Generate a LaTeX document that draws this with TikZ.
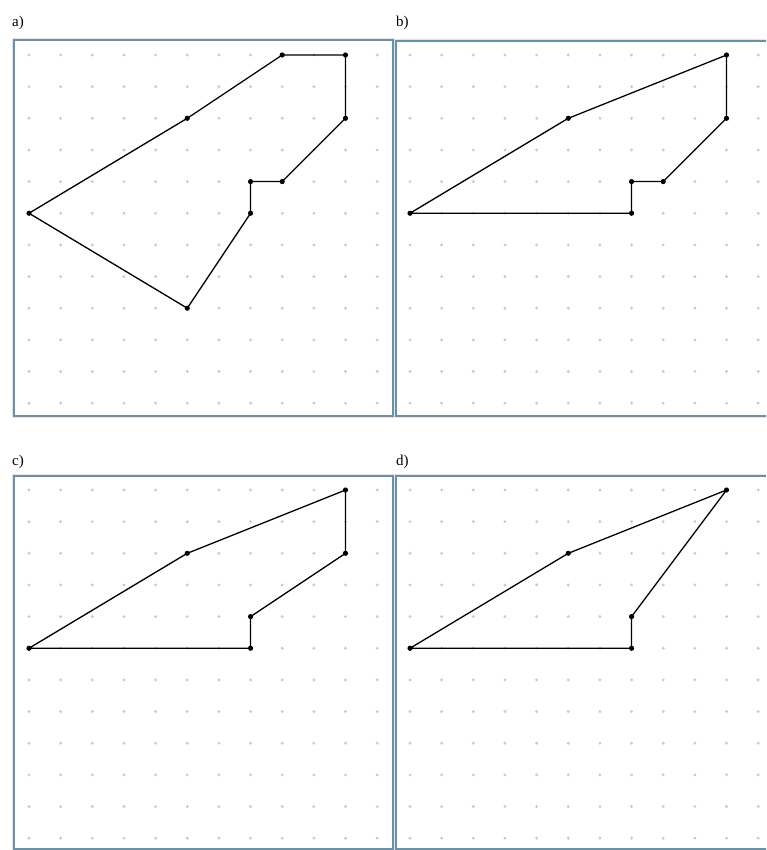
\documentclass[tikz,border=0pt]{standalone}
\usepackage{fontspec}
\setmainfont{Liberation Serif}
\definecolor{framecol}{RGB}{100,148,172}
\definecolor{pinkish}{RGB}{248,222,215}
\definecolor{gridcol}{RGB}{175,212,234}
\tikzset{
  panelframe/.style={draw=framecol, line width=1.6pt},
  panelglow/.style={draw=pinkish, line width=0.8pt},
  gdot/.style={fill=gridcol},
  poly/.style={draw=black, line width=1.3pt, line join=round},
  vtx/.style={fill=black},
  plabel/.style={anchor=west, inner sep=0pt, font=\fontsize{15}{17}\selectfont}
}
\newcommand{\gsp}{31.65}
\begin{document}
\begin{tikzpicture}[x=1pt,y=-1pt]
\useasboundingbox (0,0) rectangle (766,850);
\clip (0,0) rectangle (766,850);
\fill[white] (0,0) rectangle (766,850);
% labels
\node[plabel] (la) at (12,23) {a)};
\node[plabel] (lb) at (396,23) {b)};
\node[plabel] (lc) at (12,462) {c)};
\node[plabel] (ld) at (396,462) {d)};
% frames
\draw[panelglow] (12.5,38.5) rectangle (394.5,417.5);
\draw[panelframe] (14,40) rectangle (393,416);
\draw[panelglow] (394.5,39.5) rectangle (772,417.5);
\draw[panelframe] (396,41) rectangle (772,416);
\draw[panelglow] (12.5,474.5) rectangle (394.5,852);
\draw[panelframe] (14,476) rectangle (393,849);
\draw[panelglow] (394.5,474.5) rectangle (772,852);
\draw[panelframe] (396,476) rectangle (772,849);
% grid dots
\foreach \ox/\oy in {29/55, 410/55, 29/490, 410/490}{
  \foreach \i in {0,...,11}{
    \foreach \j in {0,...,11}{
      \fill[gdot] (\ox+\i*\gsp,\oy+\j*\gsp) circle (1.6);
    }
  }
}
% panel a
\begin{scope}[shift={(29,55)}]
\foreach \n/\c/\r in {a1/0/5, a2/5/2, a3/8/0, a4/10/0, a5/10/2, a6/8/4, a7/7/4, a8/7/5, a9/5/8}{
  \coordinate (\n) at (\c*\gsp,\r*\gsp);
}
\draw[poly] (a1) -- (a2) -- (a3) -- (a4) -- (a5) -- (a6) -- (a7) -- (a8) -- (a9) -- cycle;
\foreach \n in {a1,a2,a3,a4,a5,a6,a7,a8,a9}{\fill[vtx] (\n) circle (2.6);}
\end{scope}
% panel b
\begin{scope}[shift={(410,55)}]
\foreach \n/\c/\r in {b1/0/5, b2/5/2, b3/10/0, b4/10/2, b5/8/4, b6/7/4, b7/7/5}{
  \coordinate (\n) at (\c*\gsp,\r*\gsp);
}
\draw[poly] (b1) -- (b2) -- (b3) -- (b4) -- (b5) -- (b6) -- (b7) -- cycle;
\foreach \n in {b1,b2,b3,b4,b5,b6,b7}{\fill[vtx] (\n) circle (2.6);}
\end{scope}
% panel c
\begin{scope}[shift={(29,490)}]
\foreach \n/\c/\r in {c1/0/5, c2/5/2, c3/10/0, c4/10/2, c5/7/4, c6/7/5}{
  \coordinate (\n) at (\c*\gsp,\r*\gsp);
}
\draw[poly] (c1) -- (c2) -- (c3) -- (c4) -- (c5) -- (c6) -- cycle;
\foreach \n in {c1,c2,c3,c4,c5,c6}{\fill[vtx] (\n) circle (2.6);}
\end{scope}
% panel d
\begin{scope}[shift={(410,490)}]
\foreach \n/\c/\r in {d1/0/5, d2/5/2, d3/10/0, d4/7/4, d5/7/5}{
  \coordinate (\n) at (\c*\gsp,\r*\gsp);
}
\draw[poly] (d1) -- (d2) -- (d3) -- (d4) -- (d5) -- cycle;
\foreach \n in {d1,d2,d3,d4,d5}{\fill[vtx] (\n) circle (2.6);}
\end{scope}
\end{tikzpicture}
\end{document}
